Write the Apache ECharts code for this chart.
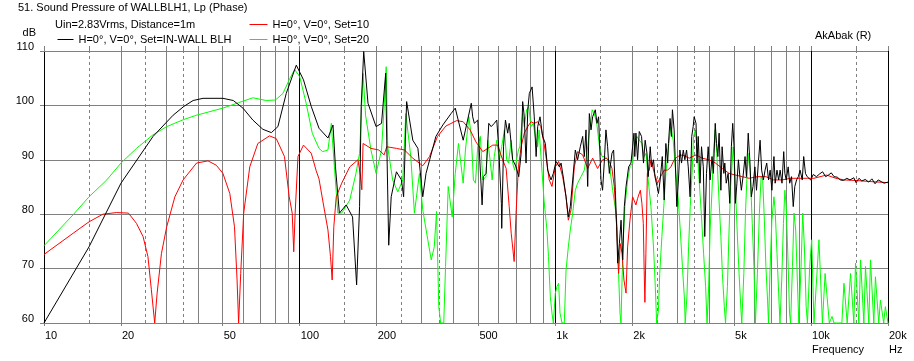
<!DOCTYPE html>
<html><head><meta charset="utf-8">
<script src="https://cdn.jsdelivr.net/npm/echarts@6/dist/echarts.min.js"></script>
<style>html,body{margin:0;padding:0;background:#fff}#c{width:914px;height:361px}</style>
</head><body><div id="c"></div>
<script>
// ---- tick labels / axes ----
const freqTicks = [10,20,50,100,200,500,1000,2000,5000,10000,20000];
const freqTickLabels = ['10','20','50','100','200','500','1k','2k','5k','10k','20k'];
const dbTicks = [60,70,80,90,100,110];
const solidGrid = [20,30,40,50,60,70,80,90,200,300,400,500,600,700,800,900,2000,3000,4000,5000,6000,7000,8000,9000];
const dashedGrid = [15,25,35,150,250,350,1500,2500,3500,15000];
const decadeGrid = [100,1000,10000,20000];

// ---- series: black (IN-WALL BLH) ----
const blackFreq = [10,15,20,26.7,32,35.2,38.3,41.9,50.1,55,60,65.6,71.8,77.5,82.2,88.6,97,103.5,111,119,129,135,138,143,152,161,167,171.5,174,178,185,199,209,217,219,223,228,239,250,255,262,277,290,303,312,341,363,391,406,436,
469,475,482,497,504,517,523,536,549,561,577,590,600,615,617,627,638,651,660,681,702,719,735,745,756,768,780,791,811,827,841,853,871,892,914,933,962,982,1006,1021,1037,1053,1078,1101,1124,1144,1169,1197,1222,1252,1279,1298,1318,1338,1358,1379,1399,1433,1455,1476,1508,1530,1553,1577,1601,1626,1665,1690,1716,1737,1753,1780,1807,1834,1861,1890,1935,1976,2005,2030,2045,
2066,2097,2129,2173,2212,2245,2282,2307,2350,2380,2420,2452,2500,2530,2570,2620,2665,2705,2750,2770,2810,2845,2870,2915,2940,2985,3030,3070,3115,3165,3210,3260,3310,3365,3415,3460,3490,3550,3580,3620,3680,3730,3790,3840,3900,3960,4030,4100,4150,4220,4270,4320,4370,4440,4490,4560,4600,4660,4740,4810,4880,4940,5000,5060,5130,5200,5270,5340,5420,5520,5590,5680,5770,5840,5930,6030,6120,6220,6320,6410,6510,6610,6710,6820,6920,7030,7160,7240,7360,7470,7570,7700,7820,7900,8000,8140,8250,8390,8520,8640,8780,8920,9060,9240,9360,9510,9660,9810,9970,
10200,10500,10800,11100,11400,11700,12000,12300,12700,13000,13400,13800,14200,14700,15000,15400,15800,16300,16800,17300,17800,18300,18800,19300,20000];
const blackDb = [60,74.0,85.7,94.3,98.2,99.8,100.9,101.3,101.3,100.9,99.5,97.3,95.6,95.0,96.1,102.2,107.4,104.7,99.8,95.8,94.0,96.4,88.7,80.2,81.7,79.5,67,81.4,99.8,109.9,100.4,96.1,96.7,105.9,93.6,74.3,83.2,87.8,86.3,83.2,100.7,93.6,92.1,83.2,87.5,94.3,96.4,98.5,99.5,93.6,
100.4,97.9,96.7,97.3,91.8,81.7,86.9,87.5,96.7,96.1,96.7,97.3,92.4,82,77.4,92.4,97.3,94.9,96.7,90,88.7,86.9,91.2,100.7,97.9,89.4,99.1,102.2,103.4,97.9,90.6,96.1,97.9,94.3,93,88.1,86.3,87.5,89.7,89.7,88.7,89.4,86.3,83.2,79.5,81.4,86.3,91.8,90,92.4,94.3,90.6,95.5,85.1,98.5,95.5,97.9,99.2,96.7,97.9,86.3,84.4,89.4,95.5,92.4,87.5,91.2,91.8,84.4,77.7,71,74.6,78.9,71.6,81.4,85.1,88.7,89.4,92.4,94.9,90.6,
94.9,90,95.2,94.3,89.4,93.6,91.2,86.9,92.4,88.7,90,86.9,85.1,83.8,86.3,90.6,82.6,93,89.4,93,97.6,94.3,99.2,95.5,90.6,81.4,86.3,91.8,89.4,91.8,90,91.8,88.7,83.2,94.3,96.1,97.9,96.7,89.4,94.3,85.7,92.4,88.7,75.9,87.5,92.4,86.3,90.6,87.5,96.7,93,90.6,94.9,84.4,92.4,87.5,89.4,85.7,87.5,82,92.4,96.7,92.4,82,85.7,90,86.9,84.4,86.9,90.6,86.9,94.9,89.4,83.2,85.1,88.7,84.4,89.4,93.6,88.1,86.3,88.1,89.4,86.3,88.1,84.4,90.6,85.7,88.1,86.3,88.1,85.7,91.5,87.5,86.3,88.7,85.7,86.9,81.4,85.1,86.3,86.9,88.1,86.3,90.6,87.5,86.9,86.9,86.3,
87.3,86.9,87.4,87.8,86.9,87.2,87.6,86.9,86.8,86.3,86.2,86.6,86.3,86.7,85.8,86.6,86.1,86.4,85.9,86.5,85.6,86.3,86,85.7,85.9];

// ---- series: red (Set=10) ----
const redFreq = [10,13,15,17,19.2,21.4,23,24.4,25.5,26.3,27.1,27.7,28.8,30.2,32.5,35,39.5,43.8,47.2,50.1,53.3,55.6,56.9,57.7,58.8,60.4,63.8,68.6,76.2,81,87.2,91,93.5,94.8,96,98.5,103.5,111,116,119,123,129,132,134,136,139,146,157,169,173,175,177,179,190,204,214,219,239,257,277,303,322,346,373,411,436,
464,489,520,544,569,595,622,642,660,672,690,702,717,735,756,780,803,827,853,877,903,927,946,970,1000,1030,1068,1101,1124,1152,1186,1222,1279,1338,1399,1463,1530,1586,1626,1665,1700,1737,1767,1795,1823,1855,1890,1917,1958,2005,2066,2097,2150,2180,2208,2225,2240,2260,2290,2330,2365,2440,2510,2580,2665,2750,2830,2915,3000,3140,3340,3550,3750,3990,4230,4500,4780,5060,5390,5720,6170,6660,7140,7700,8320,8990,9690,10260,11500,12500,13500,15000,17000,20000];
const redDb = [72.6,76.5,78.6,80,80.3,80.2,78.3,75.9,72.2,66.1,60,65.5,72.8,77.7,83.2,86.3,89.4,89.8,89,87.5,83.8,77.7,67.9,60,69.1,80.2,88.7,93,94.4,93.9,90.6,83.2,80.2,73.1,80.2,90.6,92.7,91.2,88,86.5,82.6,77.1,72.2,67.9,77.7,83.2,85.7,88.7,90,87,84.5,93,93,92.1,91.8,90.9,92.4,92.1,91.8,90.3,88.9,90.6,94.3,96.2,97.2,97,
95.5,93.3,91.5,92.1,92.7,92.7,90,88.4,81.4,76.5,71.3,80.2,88.7,92.4,94.9,96.1,97,96.7,97,96.1,93,89.4,86.3,85.1,88.7,89.7,86.9,83.2,78.9,80.8,88.7,91.5,90.9,88.4,90.3,88.4,90,90.3,89.7,88.4,85.1,77.7,69.1,74.6,72.8,67.9,65.5,74,78.9,83.2,81.7,82.9,84.4,82,78.3,69.7,63.8,72.8,87.5,88.1,90,87.5,85.7,86.9,88.1,88.1,88.7,90,90.6,90.9,90.3,90.9,90.3,90,89.4,88.4,87.5,87.2,86.9,86.6,86.9,86.9,86.3,86.3,86.6,86.6,86.6,86.6,87.2,86.6,86.3,86.2,86,85.8];

// ---- series: green (Set=20) ----
const greenFreq = [10,13,15,17.6,20,23,26.7,30.2,35.2,39.5,50.1,57.7,65.6,74,80.4,86,91,95.5,100,106,112,119,123,129,133,134,137,141,146,157,166,171.5,177,181,190,199,209,214,218,221,231,242,253,260,272,281,294,303,317,327,336,343,350,356,366,372,381,395,406,418,436,445,459,
469,478,487,497,509,520,535,544,557,566,577,590,604,617,632,645,656,672,681,693,717,726,745,756,772,787,803,820,834,853,864,888,903,927,940,956,970,982,1000,1015,1030,1043,1062,1084,1101,1124,1144,1169,1197,1222,1260,1298,1338,1367,1393,1420,1452,1488,1522,1565,1601,1636,1676,1712,1737,1763,1790,1806,1823,1843,1871,1917,1958,2005,2047,2083,2129,2180,2225,2265,2307,2365,2420,2460,2490,2530,2560,2610,2660,2705,2770,2830,2890,2960,3020,3080,3140,3200,3220,3270,3320,3370,3430,3470,3530,3580,3650,3730,3800,3870,3920,3970,4030,4100,4150,4220,4280,4360,4440,4500,4580,4630,4710,4780,4850,4960,5000,5060,5140,5230,5320,5360,5460,5540,5630,5720,5800,5890,5980,6060,6170,6280,6380,6470,6570,6660,6760,6820,6920,7030,7160,7240,7360,7470,7560,7680,7800,7900,8000,8140,8240,8320,8460,8580,8710,8840,8960,9140,9280,9420,9570,9680,9880,10060,
10270,10740,11080,11350,11790,12080,12300,13200,13450,13850,14270,14700,14930,15380,15620,16090,16330,16830,17080,17600,17860,18400,18680,19240,19530,20000];
const greenDb = [74.2,79.9,83.2,86.3,89.4,92.1,94.6,96.1,97.4,98.2,99.5,100.5,101.4,100.9,101,102.2,104.7,106.6,105.3,100.4,94.9,92.1,91.5,91.8,96.7,94.3,88.1,80.2,80.2,82.6,87.5,91.2,105.9,98.2,91.8,87.5,91.8,99.8,107.1,92.4,86.3,84.1,86.3,98.5,90.6,80.2,87.5,80.8,75.3,71.6,74,80.5,63,60,60,70.4,85.1,79.5,87.5,93,85.7,91.8,97.9,
94.3,86.3,85.7,92.4,94.3,86.3,86.9,93.6,89.4,86.3,90.6,93.6,90,92.4,95.5,90,89.4,93.6,89.4,88.1,91.8,92.4,98.5,96.1,99.2,99.8,96.1,96.7,94.3,92.4,95.5,87.5,82.6,77.1,72.2,64.8,61.8,60,65.5,66.7,67.3,61.8,60,60,69.7,74,77.1,80.2,84.4,85.7,86.9,88.1,92.4,96.1,99.2,98.5,96.7,92.4,90.6,90.6,90,88.1,84.4,81.4,78.9,70.4,61.8,60,67.9,75.3,81.4,86.3,88.7,89.4,93.6,94.3,93.6,93,90.6,91.2,86.3,81.4,74,66.7,60,62.4,69.1,75.9,82,87.5,92.4,96.1,93.6,87.5,83.2,77.1,70.4,64.2,60,64.8,74,81.4,88.1,94.3,95.5,92.4,86.3,79.5,72.8,66.7,60,65.5,77.1,84.4,91.2,95.5,91.2,83.2,75.9,69.1,63,60,66.7,77.1,85.1,92.4,90.6,85.1,77.1,69.1,62.4,60,69.1,80.2,88.1,91.2,86.3,78.3,70.4,60,69.1,80.2,86.9,86.3,78.9,70.4,64.2,60,70.4,78.9,83.2,80.8,72.8,65.5,60,67.9,78.3,84.4,81.4,70.4,61.8,60,70.4,80.2,77.1,67.9,60,70.4,80.2,74,63,60,70.4,75.3,
60,75.3,60,69.1,60,61.2,60,60,67.3,60,69.1,60,71,60,71.6,60,70.4,60,71.6,60,68.5,60,64.2,60,63,60];

const FONT = 'Liberation Sans, Arial, sans-serif';
const zip = (f, d) => f.map((v, i) => [v, d[i]]);
const labelOf = v => {
  const i = freqTicks.indexOf(v);
  if (i < 0) return '';
  if (v === 10000) return freqTickLabels[i] + '\nFrequency';
  if (v === 20000) return freqTickLabels[i] + '\nHz';
  return freqTickLabels[i];
};

const gridLines = []
  .concat(solidGrid.map(v => ({xAxis: v, lineStyle: {color: '#808080', type: 'solid', width: 1}})))
  .concat(dashedGrid.map(v => ({xAxis: v, lineStyle: {color: '#808080', type: [3, 3], width: 1}})))
  .concat(decadeGrid.map(v => ({xAxis: v, lineStyle: {color: '#000000', type: 'solid', width: 1}})));

const base = {type: 'line', symbol: 'none', showSymbol: false, clip: true, silent: true, animation: false, lineStyle: {width: 1}, emphasis: {disabled: true}};
const legendItem = (name, color, left, top, w) => ({
  data: [name], left: left, top: top, padding: 0, itemWidth: w, itemHeight: 12, selectedMode: false,
  itemStyle: {opacity: 0}, lineStyle: {width: 1, color: color, opacity: 1},
  textStyle: {fontSize: 11, color: '#000', fontFamily: FONT}
});

const chart = echarts.init(document.getElementById('c'));
chart.setOption({
  backgroundColor: '#ffffff',
  animation: false,
  textStyle: {fontFamily: FONT},
  title: [
    {text: '51. Sound Pressure of WALLBLH1, Lp (Phase)', left: 18, top: 2, padding: 0, textStyle: {fontSize: 11, fontWeight: 'normal', color: '#000', fontFamily: FONT}},
    {text: 'Uin=2.83Vrms, Distance=1m', left: 55, top: 19, padding: 0, textStyle: {fontSize: 11, fontWeight: 'normal', color: '#000', fontFamily: FONT}},
    {text: 'AkAbak (R)', left: 815, top: 30, padding: 0, textStyle: {fontSize: 11, fontWeight: 'normal', color: '#000', fontFamily: FONT}}
  ],
  legend: [
    legendItem('H=0°, V=0°, Set=IN-WALL BLH', '#000000', 57, 34, 16),
    legendItem('H=0°, V=0°, Set=10', '#ff0000', 249, 19, 18),
    legendItem('H=0°, V=0°, Set=20', '#00ff00', 249, 34, 18)
  ],
  grid: {left: 44, right: 26, top: 51, bottom: 38, containLabel: false},
  xAxis: [
    {type: 'log', logBase: 10, min: 10, max: 20000, position: 'bottom',
     axisLine: {show: true, lineStyle: {color: '#808080', width: 1}},
     axisTick: {show: true, customValues: freqTicks, length: 3, lineStyle: {color: '#808080'}},
     axisLabel: {show: true, customValues: freqTicks, formatter: labelOf, align: 'left', margin: 6, color: '#000', fontSize: 11, lineHeight: 14, fontFamily: FONT, padding: [0, 0, 0, 1], showMinLabel: true, showMaxLabel: true},
     splitLine: {show: false}, minorTick: {show: false}, minorSplitLine: {show: false}},
    {type: 'log', logBase: 10, min: 10, max: 20000, position: 'top',
     axisLine: {show: true, lineStyle: {color: '#808080', width: 1}},
     axisTick: {show: true, customValues: [10].concat(dashedGrid, solidGrid, decadeGrid).sort((a, b) => a - b), length: 5, lineStyle: {color: '#808080'}},
     axisLabel: {show: false}, splitLine: {show: false}}
  ],
  yAxis: {type: 'value', min: 60, max: 110, interval: 10, position: 'left',
    name: 'dB', nameLocation: 'end', nameGap: 13,
    nameTextStyle: {align: 'right', verticalAlign: 'bottom', padding: [0, 8, 0, 0], color: '#000', fontSize: 11, fontFamily: FONT},
    axisLine: {show: true, lineStyle: {color: '#000', width: 1}},
    axisTick: {show: true, length: 4, lineStyle: {color: '#808080'}},
    axisLabel: {color: '#000', fontSize: 11, fontFamily: FONT, margin: 10, verticalAlign: 'bottom', lineHeight: 8, customValues: dbTicks},
    splitLine: {show: true, lineStyle: {color: '#808080', width: 1}}},
  series: [
    Object.assign({}, base, {name: 'grid', data: [], z: 1, markLine: {silent: true, symbol: ['none', 'none'], label: {show: false}, z: 1, animation: false, emphasis: {disabled: true}, data: gridLines}}),
    Object.assign({}, base, {name: 'H=0°, V=0°, Set=20', z: 2, color: '#00ff00', lineStyle: {width: 1, color: '#00ff00'}, data: zip(greenFreq, greenDb)}),
    Object.assign({}, base, {name: 'H=0°, V=0°, Set=10', z: 3, color: '#ff0000', lineStyle: {width: 1, color: '#ff0000'}, data: zip(redFreq, redDb)}),
    Object.assign({}, base, {name: 'H=0°, V=0°, Set=IN-WALL BLH', z: 4, color: '#000000', lineStyle: {width: 1, color: '#000000'}, data: zip(blackFreq, blackDb)})
  ]
});
</script></body></html>
